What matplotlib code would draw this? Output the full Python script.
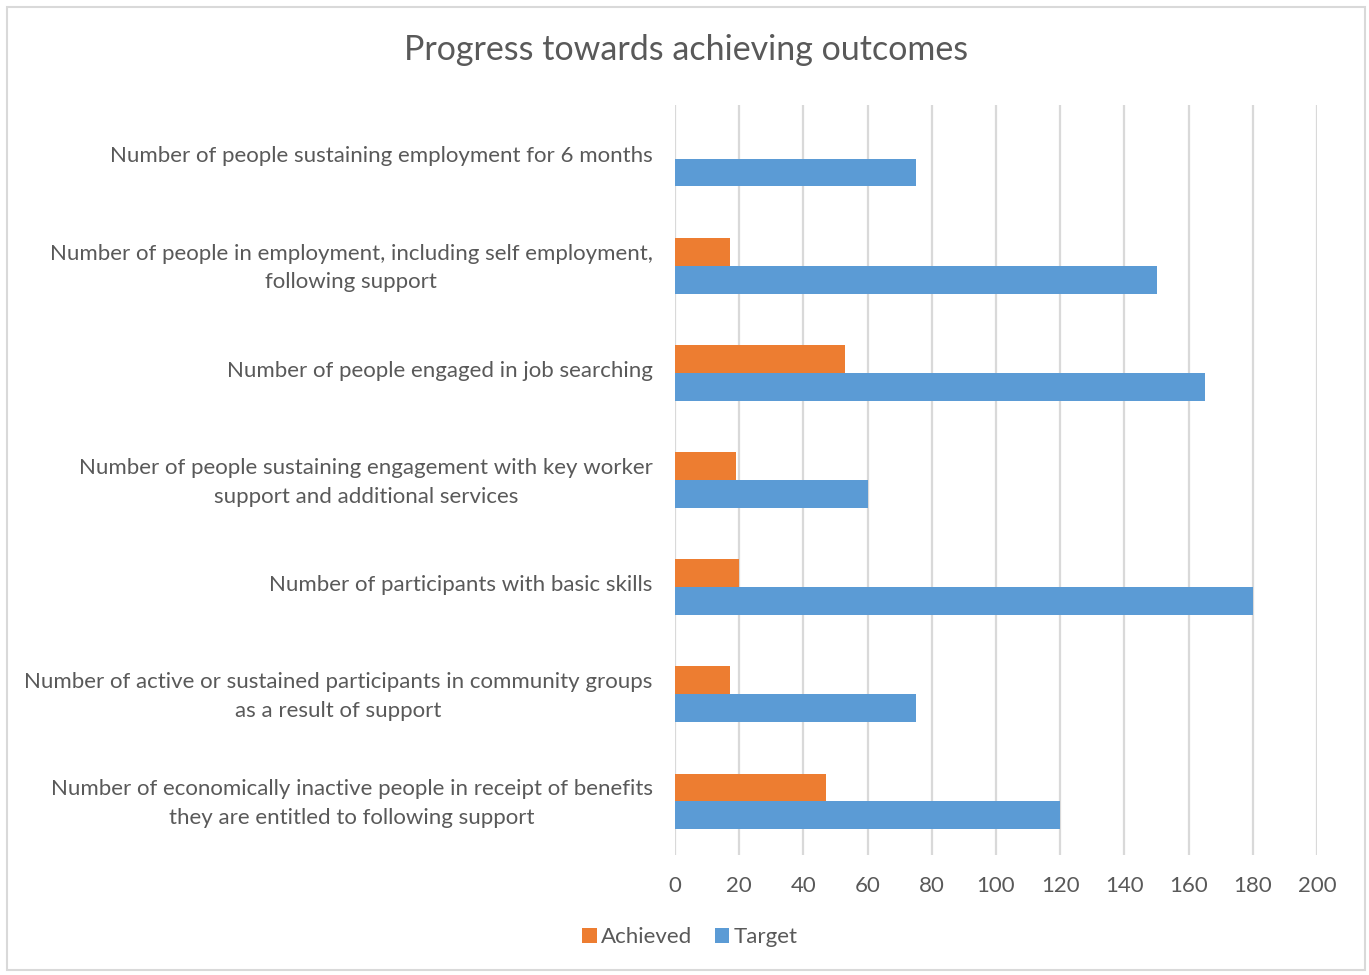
import matplotlib.pyplot as plt
import matplotlib.transforms as mtransforms
import numpy as np
from matplotlib.patches import Rectangle

plt.rcParams['font.family'] = ['Lato', 'DejaVu Sans']

categories = [
    "Number of people sustaining employment for 6 months",
    "Number of people in employment, including self employment,\nfollowing support",
    "Number of people engaged in job searching",
    "Number of people sustaining engagement with key worker\nsupport and additional services",
    "Number of participants with basic skills",
    "Number of active or sustained participants in community groups\nas a result of support",
    "Number of economically inactive people in receipt of benefits\nthey are entitled to following support",
]
achieved = [0, 17, 53, 19, 20, 17, 47]
target = [75, 150, 165, 60, 180, 75, 120]
xticks = [0, 20, 40, 60, 80, 100, 120, 140, 160, 180, 200]

text_col = '#595959'
orange = '#ED7D31'
blue = '#5B9BD5'

fig = plt.figure(figsize=(13.69, 9.75), dpi=100)
ax = fig.add_axes([675/1369, 1 - 855/975, (1317-675)/1369, 750/975])

y = np.arange(len(categories))
h = 0.26
ax.barh(y - h/2, achieved, height=h, color=orange, label='Achieved')
ax.barh(y + h/2, target, height=h, color=blue, label='Target')

ax.set_xlim(0, 200)
ax.set_ylim(len(categories) - 0.5, -0.5)
ax.set_xticks(xticks)
ax.set_yticks(y)
ax.set_yticklabels(categories, linespacing=1.55)
ax.tick_params(axis='both', length=0, labelsize=16, labelcolor=text_col)
ax.tick_params(axis='y', pad=16)
ax.tick_params(axis='x', pad=15)

# nudge category labels up a little
nudge = mtransforms.ScaledTranslation(0, 3/72, fig.dpi_scale_trans)
for lbl in ax.get_yticklabels():
    lbl.set_horizontalalignment('right')
    lbl.set_multialignment('center')
    lbl.set_transform(lbl.get_transform() + nudge)

ax.grid(axis='x', color='#d9d9d9', linewidth=1.6)
ax.set_axisbelow(True)
for s in ax.spines.values():
    s.set_visible(False)

fig.text(686/1369, 1 - 50/975, 'Progress towards achieving outcomes',
         ha='center', va='center', fontsize=24.5, color=text_col)

fig.legend(loc='center', bbox_to_anchor=(690/1369, 1 - 937/975), ncol=2,
           frameon=False, fontsize=16, labelcolor=text_col,
           handlelength=0.65, handleheight=0.65, handletextpad=0.2, columnspacing=1.0)

fig.patches.append(Rectangle((7/1369, 5/975), 1358/1369, 963/975,
                             transform=fig.transFigure, fill=False,
                             edgecolor='#d9d9d9', linewidth=1.5))

fig.savefig('out.png', dpi=100)
